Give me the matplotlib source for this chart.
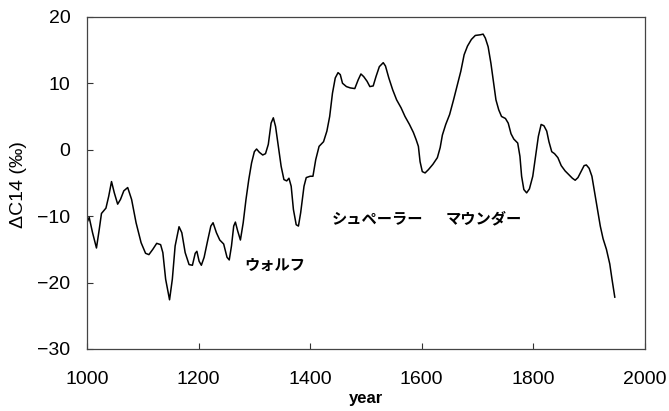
import matplotlib

matplotlib.use("Agg")
import matplotlib.pyplot as plt

# Delta C14 record (per mil), read at irregular years
years = [
    1000, 1004, 1010, 1017, 1022, 1026, 1034, 1039, 1044, 1049,
    1055, 1060, 1066, 1073, 1080, 1088, 1097, 1105, 1111, 1118,
    1125, 1132, 1136, 1141, 1148, 1153, 1158, 1165, 1170, 1176,
    1183, 1189, 1194, 1197, 1201, 1205, 1210, 1216, 1222, 1226,
    1232, 1238, 1245, 1251, 1255, 1259, 1263, 1266, 1270, 1275,
    1280, 1285, 1290, 1295, 1300, 1304, 1309, 1315, 1320, 1325,
    1330, 1334, 1338, 1343, 1348, 1353, 1358, 1362, 1366, 1370,
    1375, 1379, 1383, 1389, 1393, 1400, 1405, 1410, 1416, 1424,
    1430, 1435, 1440, 1445, 1450, 1454, 1458, 1465, 1472, 1480,
    1486, 1491, 1496, 1502, 1507, 1513, 1518, 1524, 1531, 1535,
    1541, 1548, 1555, 1563, 1570, 1578, 1585, 1590, 1594, 1597,
    1601, 1606, 1612, 1620, 1628, 1633, 1637, 1643, 1650, 1657,
    1663, 1670, 1676, 1682, 1689, 1696, 1705, 1710, 1714, 1719,
    1724, 1728, 1733, 1738, 1743, 1750, 1755, 1760, 1765, 1772,
    1776, 1779, 1783, 1788, 1793, 1799, 1804, 1809, 1814, 1819,
    1824, 1828, 1833, 1838, 1844, 1850, 1857, 1864, 1870, 1875,
    1880, 1886, 1891, 1895, 1900, 1905, 1910, 1915, 1920, 1925,
    1931, 1937, 1941, 1946,
]
dc14 = [
    -11.0, -10.2, -12.5, -14.8, -12.0, -9.6, -8.8, -7.0, -4.8, -6.5,
    -8.2, -7.5, -6.2, -5.7, -7.5, -11.0, -14.0, -15.6, -15.8, -15.0,
    -14.1, -14.3, -15.5, -19.5, -22.6, -19.5, -14.5, -11.6, -12.5, -15.5,
    -17.3, -17.4, -15.6, -15.3, -16.8, -17.4, -16.2, -13.8, -11.5, -11.0,
    -12.5, -13.6, -14.2, -16.2, -16.6, -14.5, -11.5, -10.9, -12.2, -13.6,
    -11.0, -7.5, -4.5, -2.0, -0.3, 0.1, -0.4, -0.8, -0.6, 0.8,
    4.0, 4.8, 3.5, 0.5, -2.5, -4.5, -4.7, -4.3, -5.5, -9.0,
    -11.3, -11.5, -9.5, -5.5, -4.2, -4.0, -4.0, -1.5, 0.5, 1.2,
    2.8, 5.0, 8.5, 10.8, 11.6, 11.3, 10.0, 9.5, 9.3, 9.2,
    10.5, 11.4, 11.0, 10.3, 9.5, 9.6, 11.0, 12.5, 13.1, 12.6,
    10.8, 9.0, 7.5, 6.3, 5.0, 3.8, 2.6, 1.5, 0.5, -1.8,
    -3.3, -3.5, -3.0, -2.2, -1.2, 0.3, 2.2, 3.8, 5.3, 7.5,
    9.5, 11.8, 14.3, 15.6, 16.6, 17.2, 17.3, 17.4, 16.8, 15.5,
    13.0, 10.5, 7.5, 6.0, 5.0, 4.7, 4.0, 2.4, 1.6, 1.0,
    -1.0, -4.0, -6.0, -6.5, -5.9, -4.0, -1.0, 2.0, 3.8, 3.6,
    2.8, 1.2, -0.3, -0.6, -1.2, -2.4, -3.2, -3.8, -4.3, -4.6,
    -4.2, -3.2, -2.4, -2.3, -2.8, -4.0, -6.5, -9.0, -11.5, -13.4,
    -15.0, -17.2, -19.5, -22.2,
]

# solar minima names and where they sit on the chart (year, value)
minima = ["ウォルフ", "シュペーラー", "マウンダー"]
minima_pos = [(1337, -17.3), (1521, -10.3), (1712, -10.3)]

plt.rcParams["font.family"] = ["Liberation Sans", "Noto Sans CJK JP", "DejaVu Sans"]

fig = plt.figure(figsize=(6.69, 4.11), dpi=100)
ax = fig.add_axes([0.130, 0.151, 0.834, 0.808])

ax.plot(years, dc14, color="black", lw=1.1)

for name, (x, y) in zip(minima, minima_pos):
    ax.text(x, y, name, family=["Noto Sans CJK JP", "DejaVu Sans"],
            fontsize=11, fontweight="bold", ha="center", va="center")

ax.set_xlim(1000, 2000)
ax.set_ylim(-30, 20)
ax.set_xticks([1000, 1200, 1400, 1600, 1800, 2000])
ax.set_yticks([-30, -20, -10, 0, 10, 20])
ax.set_yticklabels(["\u221230", "\u221220", "\u221210", "0", "10", "20"])
ax.tick_params(direction="in", length=4, width=0.8, labelsize=14,
               colors="#333333", labelcolor="black")
ax.tick_params(axis="x", pad=16)
ax.tick_params(axis="y", pad=12)
for s in ax.spines.values():
    s.set_color("#444444")
    s.set_linewidth(0.9)

ax.set_xlabel("year", fontsize=12, fontweight="bold")
ax.set_ylabel("\u0394C14 (\u2030)", fontsize=14)
ax.xaxis.set_label_coords(0.5, -0.128)
ax.yaxis.set_label_coords(-0.108, 0.494)

fig.savefig("out.png", dpi=100)
